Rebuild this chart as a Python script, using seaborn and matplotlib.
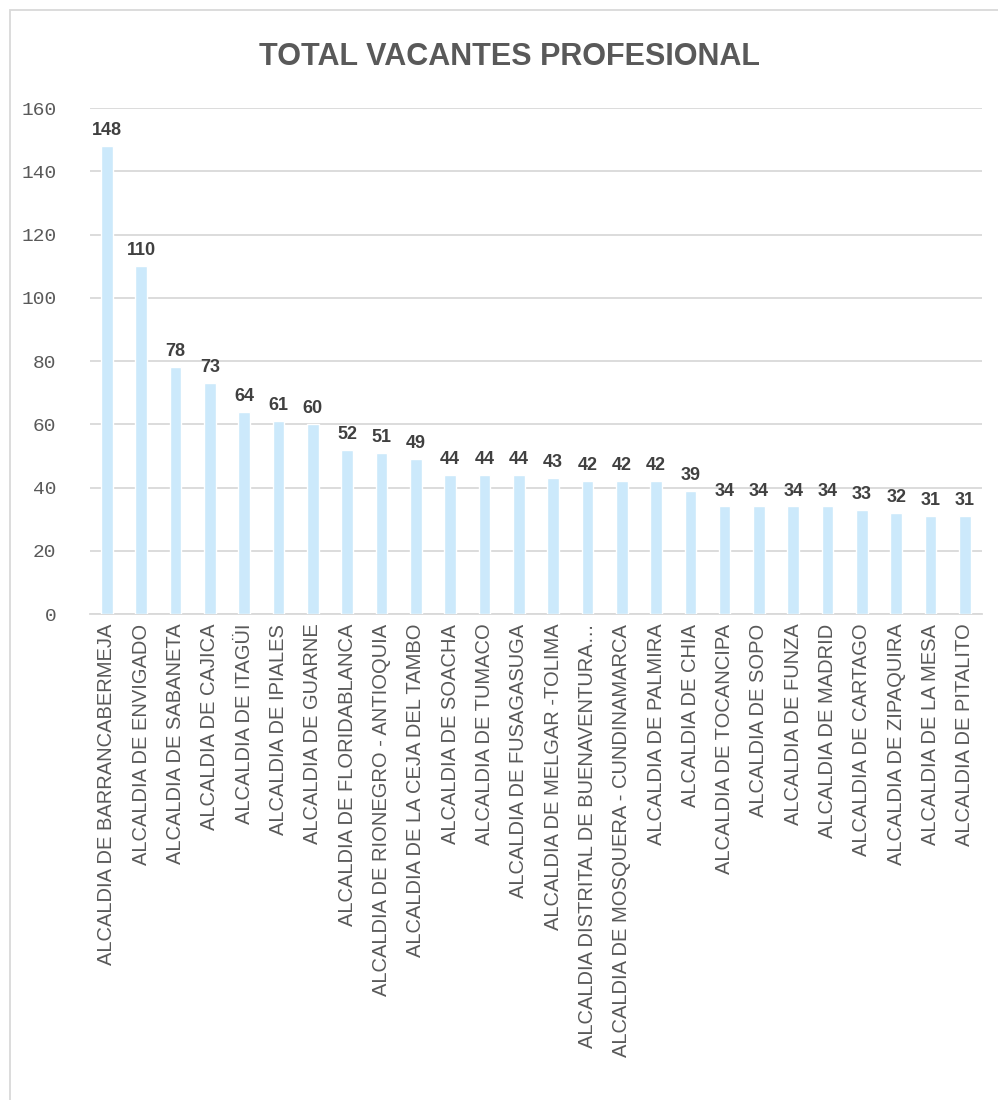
import matplotlib
matplotlib.use("Agg")
import matplotlib.pyplot as plt
import seaborn as sns
import pandas as pd
from matplotlib.patches import Rectangle

categories = [
    "ALCALDIA DE BARRANCABERMEJA", "ALCALDIA DE ENVIGADO", "ALCALDIA DE SABANETA",
    "ALCALDIA DE CAJICA", "ALCALDIA DE ITAGÜI", "ALCALDIA DE IPIALES",
    "ALCALDIA DE GUARNE", "ALCALDIA DE FLORIDABLANCA", "ALCALDIA DE RIONEGRO - ANTIOQUIA",
    "ALCALDIA DE LA CEJA DEL TAMBO", "ALCALDIA DE SOACHA", "ALCALDIA DE TUMACO",
    "ALCALDIA DE FUSAGASUGA", "ALCALDIA DE MELGAR -TOLIMA",
    "ALCALDIA DISTRITAL DE BUENAVENTURA…", "ALCALDIA DE MOSQUERA - CUNDINAMARCA",
    "ALCALDIA DE PALMIRA", "ALCALDIA DE CHIA", "ALCALDIA DE TOCANCIPA",
    "ALCALDIA DE SOPO", "ALCALDIA DE FUNZA", "ALCALDIA DE MADRID",
    "ALCALDIA DE CARTAGO", "ALCALDIA DE ZIPAQUIRA", "ALCALDIA DE LA MESA",
    "ALCALDIA DE PITALITO",
]
values = [148, 110, 78, 73, 64, 61, 60, 52, 51, 49, 44, 44, 44, 43, 42, 42, 42,
          39, 34, 34, 34, 34, 33, 32, 31, 31]
yticks = [0, 20, 40, 60, 80, 100, 120, 140, 160]
title = "TOTAL VACANTES PROFESIONAL"

df = pd.DataFrame({"cat": categories, "val": values})

sns.set_theme(style="white")
plt.rcParams["font.family"] = ["Liberation Sans", "DejaVu Sans"]

fig = plt.figure(figsize=(9.98, 11), dpi=100)
ax = fig.add_axes([0.090, 0.4418, 0.894, 0.46])

sns.barplot(data=df, x="cat", y="val", color="#CCE9FB", saturation=1,
            width=0.34, ax=ax, zorder=3)

ax.set_ylim(0, 160)
ax.set_xlim(-0.5, len(categories) - 0.5)
ax.set_yticks(yticks)
ax.set_yticklabels([str(t) for t in yticks], color="#595959", fontsize=14,
                   family=["Liberation Mono", "DejaVu Sans Mono"])
ax.yaxis.grid(True, color="#D9D9D9", linewidth=1.3, zorder=0)
ax.xaxis.grid(False)
ax.set_axisbelow(True)
ax.tick_params(axis="y", length=0, pad=24)
ax.tick_params(axis="x", length=0, pad=7)
ax.set_xticks(range(len(categories)))
ax.set_xticklabels(categories, rotation=90, fontsize=14.5, color="#595959")
ax.set_xlabel("")
ax.set_ylabel("")
for s in ["top", "right", "left"]:
    ax.spines[s].set_visible(False)
ax.spines["bottom"].set_color("#D9D9D9")
ax.spines["bottom"].set_linewidth(1.3)

for c in ax.containers:
    ax.bar_label(c, labels=[str(v) for v in values], padding=5, fontsize=13,
                 fontweight="bold", color="#404040")

fig.text(0.511, 0.948, title, ha="center", va="center", fontsize=22,
         fontweight="bold", color="#595959")

fig.patches.append(Rectangle((10 / 998, -0.01), 1.0, 1 - 10 / 1100 + 0.01,
                             transform=fig.transFigure, fill=False,
                             edgecolor="#D9D9D9", linewidth=1.3))

fig.savefig("out.png", dpi=100)
